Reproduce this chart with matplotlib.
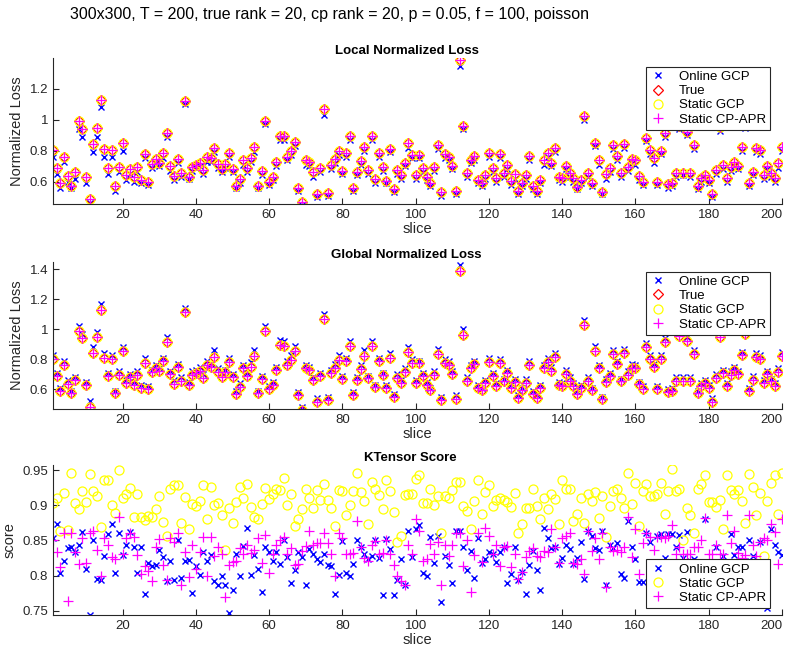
import matplotlib
matplotlib.use("Agg")
import matplotlib.pyplot as plt
import numpy as np

plt.rcParams['font.family'] = ['Liberation Sans', 'DejaVu Sans']

# slice index 1..200
slices = np.arange(1, 201)

# normalized loss of the true model (True / Static GCP / Static CP-APR overlap in the picture)
true_loss = [
    0.805, 0.69, 0.589, 0.762, 0.636, 0.574, 0.66, 0.99, 0.94, 0.632,
    0.485, 0.844, 0.946, 1.126, 0.812, 0.686, 0.805, 0.574, 0.693, 0.853,
    0.643, 0.68, 0.632, 0.697, 0.61, 0.779, 0.6, 0.714, 0.745, 0.723,
    0.788, 0.913, 0.701, 0.636, 0.749, 0.654, 1.119, 0.632, 0.697, 0.708,
    0.723, 0.675, 0.762, 0.751, 0.816, 0.714, 0.68, 0.714, 0.784, 0.684,
    0.571, 0.615, 0.74, 0.686, 0.751, 0.823, 0.574, 0.669, 0.99, 0.6,
    0.632, 0.729, 0.896, 0.892, 0.762, 0.799, 0.859, 0.561, 0.465, 0.74,
    0.729, 0.66, 0.519, 0.69, 1.069, 0.528, 0.708, 0.745, 0.799, 0.671,
    0.788, 0.892, 0.561, 0.66, 0.736, 0.823, 0.675, 0.892, 0.615, 0.788,
    0.693, 0.606, 0.812, 0.552, 0.675, 0.643, 0.719, 0.848, 0.773, 0.643,
    0.773, 0.686, 0.632, 0.593, 0.697, 0.838, 0.53, 0.779, 0.762, 0.701,
    0.539, 1.39, 0.963, 0.654, 0.74, 0.766, 0.61, 0.593, 0.643, 0.784,
    0.686, 0.621, 0.777, 0.654, 0.708, 0.606, 0.649, 0.541, 0.593, 0.645,
    0.764, 0.571, 0.541, 0.61, 0.74, 0.784, 0.723, 0.816, 0.632, 0.621,
    0.701, 0.654, 0.621, 0.567, 0.61, 1.026, 0.658, 0.593, 0.853, 0.74,
    0.535, 0.649, 0.686, 0.838, 0.766, 0.654, 0.844, 0.693, 0.745, 0.74,
    0.636, 0.6, 0.885, 0.805, 0.751, 0.6, 0.801, 0.913, 0.584, 0.589,
    0.658, 0.957, 0.658, 0.924, 0.658, 0.836, 0.574, 0.621, 0.643, 0.61,
    0.519, 0.675, 0.952, 0.708, 0.621, 0.697, 0.729, 0.701, 0.827, 0.97,
    0.589, 0.665, 0.816, 0.805, 0.643, 0.701, 0.654, 0.621, 0.719, 0.823,
]
static_gcp_loss = true_loss
static_cpapr_loss = true_loss

online_local = [
    0.76, 0.65, 0.56, 0.73, 0.60, 0.56, 0.62, 0.94, 0.89, 0.59,
    0.46, 0.79, 0.89, 1.08, 0.76, 0.65, 0.76, 0.54, 0.66, 0.80,
    0.61, 0.65, 0.60, 0.66, 0.59, 0.75, 0.58, 0.69, 0.72, 0.70,
    0.75, 0.89, 0.67, 0.61, 0.72, 0.63, 1.10, 0.62, 0.67, 0.69,
    0.70, 0.65, 0.73, 0.73, 0.79, 0.69, 0.66, 0.69, 0.76, 0.66,
    0.56, 0.59, 0.71, 0.66, 0.73, 0.79, 0.56, 0.64, 0.97, 0.58,
    0.61, 0.70, 0.87, 0.87, 0.74, 0.77, 0.83, 0.54, 0.45, 0.71,
    0.70, 0.63, 0.50, 0.66, 1.03, 0.51, 0.68, 0.72, 0.77, 0.65,
    0.76, 0.87, 0.54, 0.64, 0.71, 0.80, 0.65, 0.87, 0.59, 0.76,
    0.67, 0.59, 0.79, 0.53, 0.65, 0.62, 0.70, 0.82, 0.75, 0.62,
    0.75, 0.66, 0.61, 0.57, 0.67, 0.81, 0.51, 0.75, 0.74, 0.68,
    0.52, 1.35, 0.94, 0.63, 0.72, 0.74, 0.59, 0.57, 0.62, 0.76,
    0.66, 0.60, 0.75, 0.63, 0.68, 0.58, 0.62, 0.52, 0.57, 0.62,
    0.74, 0.55, 0.52, 0.59, 0.71, 0.76, 0.70, 0.79, 0.61, 0.60,
    0.68, 0.63, 0.60, 0.55, 0.59, 1.00, 0.63, 0.57, 0.83, 0.71,
    0.52, 0.62, 0.66, 0.81, 0.74, 0.63, 0.82, 0.67, 0.72, 0.71,
    0.61, 0.58, 0.86, 0.78, 0.72, 0.58, 0.78, 0.89, 0.56, 0.57,
    0.63, 0.94, 0.64, 0.90, 0.63, 0.81, 0.55, 0.60, 0.62, 0.59,
    0.50, 0.65, 0.93, 0.68, 0.60, 0.67, 0.70, 0.68, 0.80, 0.95,
    0.57, 0.64, 0.79, 0.78, 0.62, 0.68, 0.63, 0.60, 0.69, 0.80,
]

online_global = [
    0.83, 0.71, 0.61, 0.79, 0.66, 0.59, 0.68, 1.02, 0.97, 0.65,
    0.52, 0.88, 0.98, 1.17, 0.84, 0.71, 0.83, 0.59, 0.72, 0.88,
    0.66, 0.70, 0.65, 0.72, 0.63, 0.81, 0.62, 0.73, 0.76, 0.74,
    0.81, 0.95, 0.72, 0.66, 0.77, 0.68, 1.14, 0.65, 0.72, 0.73,
    0.75, 0.70, 0.79, 0.77, 0.86, 0.74, 0.70, 0.73, 0.81, 0.70,
    0.59, 0.64, 0.76, 0.71, 0.78, 0.86, 0.59, 0.69, 1.02, 0.62,
    0.65, 0.75, 0.93, 0.92, 0.79, 0.83, 0.89, 0.58, 0.48, 0.76,
    0.75, 0.68, 0.54, 0.71, 1.10, 0.55, 0.73, 0.77, 0.83, 0.69,
    0.81, 0.92, 0.58, 0.68, 0.76, 0.86, 0.69, 0.92, 0.63, 0.81,
    0.71, 0.63, 0.84, 0.57, 0.70, 0.66, 0.74, 0.88, 0.80, 0.66,
    0.79, 0.71, 0.65, 0.61, 0.72, 0.87, 0.55, 0.80, 0.79, 0.72,
    0.56, 1.43, 1.00, 0.68, 0.76, 0.79, 0.63, 0.61, 0.66, 0.81,
    0.71, 0.64, 0.80, 0.67, 0.73, 0.63, 0.67, 0.56, 0.61, 0.67,
    0.79, 0.59, 0.56, 0.63, 0.76, 0.81, 0.75, 0.84, 0.65, 0.64,
    0.73, 0.68, 0.64, 0.59, 0.63, 1.06, 0.68, 0.61, 0.89, 0.76,
    0.55, 0.67, 0.71, 0.86, 0.79, 0.67, 0.87, 0.72, 0.77, 0.76,
    0.65, 0.62, 0.91, 0.83, 0.77, 0.62, 0.83, 0.94, 0.60, 0.61,
    0.68, 0.99, 0.68, 0.95, 0.68, 0.86, 0.59, 0.64, 0.66, 0.63,
    0.54, 0.70, 0.98, 0.73, 0.64, 0.72, 0.75, 0.72, 0.85, 1.00,
    0.61, 0.69, 0.84, 0.83, 0.66, 0.72, 0.67, 0.64, 0.74, 0.85,
]

# KTensor scores
kt_online = [
    0.854, 0.874, 0.803, 0.82, 0.839, 0.84, 0.833, 0.843, 0.862, 0.81,
    0.744, 0.85, 0.795, 0.793, 0.828, 0.859, 0.873, 0.803, 0.861, 0.829,
    0.843, 0.862, 0.84, 0.803, 0.841, 0.773, 0.818, 0.814, 0.815, 0.837,
    0.826, 0.792, 0.821, 0.794, 0.85, 0.797, 0.82, 0.822, 0.775, 0.813,
    0.801, 0.834, 0.82, 0.829, 0.792, 0.786, 0.80, 0.787, 0.746, 0.779,
    0.83, 0.799, 0.842, 0.868, 0.801, 0.829, 0.809, 0.777, 0.84, 0.833,
    0.821, 0.834, 0.816, 0.85, 0.827, 0.789, 0.808, 0.833, 0.826, 0.786,
    0.838, 0.831, 0.823, 0.819, 0.831, 0.815, 0.813, 0.774, 0.801, 0.849,
    0.803, 0.80, 0.816, 0.851, 0.84, 0.831, 0.824, 0.828, 0.85, 0.825,
    0.772, 0.852, 0.838, 0.772, 0.794, 0.823, 0.787, 0.863, 0.826, 0.867,
    0.872, 0.803, 0.80, 0.855, 0.818, 0.856, 0.762, 0.828, 0.815, 0.79,
    0.864, 0.864, 0.84, 0.808, 0.835, 0.796, 0.854, 0.818, 0.824, 0.833,
    0.83, 0.819, 0.834, 0.84, 0.79, 0.802, 0.84, 0.794, 0.805, 0.774,
    0.815, 0.835, 0.808, 0.78, 0.868, 0.853, 0.839, 0.841, 0.817, 0.825,
    0.843, 0.838, 0.816, 0.825, 0.848, 0.795, 0.863, 0.856, 0.839, 0.837,
    0.863, 0.787, 0.843, 0.839, 0.847, 0.802, 0.797, 0.878, 0.84, 0.823,
    0.791, 0.791, 0.861, 0.848, 0.811, 0.856, 0.859, 0.825, 0.859, 0.859,
    0.84, 0.858, 0.825, 0.862, 0.82, 0.823, 0.811, 0.797, 0.881, 0.818,
    0.801, 0.84, 0.816, 0.828, 0.801, 0.859, 0.829, 0.84, 0.84, 0.82,
    0.851, 0.828, 0.811, 0.848, 0.792, 0.754, 0.866, 0.843, 0.833, 0.829,
]

kt_static_gcp = [
    0.903, 0.91, 0.864, 0.918, 0.865, 0.947, 0.903, 0.895, 0.92, 0.905,
    0.945, 0.92, 0.914, 0.869, 0.936, 0.936, 0.9, 0.889, 0.951, 0.91,
    0.917, 0.925, 0.884, 0.917, 0.883, 0.879, 0.885, 0.883, 0.895, 0.914,
    0.877, 0.856, 0.923, 0.929, 0.929, 0.875, 0.912, 0.867, 0.902, 0.899,
    0.906, 0.929, 0.88, 0.927, 0.901, 0.904, 0.887, 0.837, 0.897, 0.875,
    0.905, 0.926, 0.911, 0.931, 0.898, 0.884, 0.88, 0.902, 0.925, 0.909,
    0.916, 0.923, 0.922, 0.939, 0.9, 0.916, 0.87, 0.88, 0.895, 0.924,
    0.911, 0.897, 0.922, 0.908, 0.931, 0.908, 0.897, 0.87, 0.922, 0.921,
    0.886, 0.9, 0.921, 0.946, 0.919, 0.907, 0.874, 0.933, 0.924, 0.915,
    0.895, 0.936, 0.92, 0.891, 0.848, 0.856, 0.915, 0.917, 0.917, 0.938,
    0.943, 0.904, 0.903, 0.924, 0.901, 0.914, 0.86, 0.914, 0.911, 0.922,
    0.933, 0.934, 0.899, 0.892, 0.867, 0.906, 0.936, 0.888, 0.919, 0.929,
    0.899, 0.908, 0.91, 0.908, 0.905, 0.898, 0.918, 0.86, 0.874, 0.897,
    0.897, 0.924, 0.899, 0.88, 0.91, 0.895, 0.917, 0.909, 0.874, 0.937,
    0.924, 0.923, 0.878, 0.888, 0.911, 0.875, 0.916, 0.906, 0.919, 0.882,
    0.913, 0.855, 0.899, 0.921, 0.924, 0.91, 0.896, 0.947, 0.902, 0.932,
    0.87, 0.92, 0.931, 0.914, 0.913, 0.917, 0.932, 0.888, 0.92, 0.952,
    0.92, 0.923, 0.851, 0.896, 0.886, 0.86, 0.924, 0.93, 0.943, 0.905,
    0.905, 0.898, 0.908, 0.867, 0.943, 0.922, 0.917, 0.922, 0.906, 0.875,
    0.945, 0.926, 0.887, 0.918, 0.828, 0.907, 0.932, 0.944, 0.888, 0.946,
]

kt_static_cpapr = [
    0.85, 0.833, 0.812, 0.86, 0.764, 0.86, 0.834, 0.817, 0.853, 0.818,
    0.86, 0.863, 0.836, 0.80, 0.854, 0.843, 0.827, 0.824, 0.883, 0.83,
    0.853, 0.861, 0.855, 0.829, 0.802, 0.813, 0.807, 0.792, 0.841, 0.852,
    0.815, 0.793, 0.853, 0.848, 0.861, 0.787, 0.833, 0.798, 0.844, 0.809,
    0.833, 0.855, 0.799, 0.855, 0.828, 0.841, 0.831, 0.77, 0.815, 0.819,
    0.821, 0.839, 0.831, 0.844, 0.832, 0.836, 0.854, 0.818, 0.858, 0.804,
    0.83, 0.843, 0.851, 0.855, 0.83, 0.839, 0.815, 0.816, 0.835, 0.842,
    0.863, 0.844, 0.847, 0.847, 0.86, 0.847, 0.83, 0.80, 0.861, 0.853,
    0.831, 0.831, 0.832, 0.878, 0.84, 0.825, 0.821, 0.844, 0.849, 0.831,
    0.832, 0.851, 0.831, 0.815, 0.80, 0.792, 0.787, 0.844, 0.83, 0.88,
    0.863, 0.82, 0.824, 0.845, 0.831, 0.848, 0.787, 0.844, 0.828, 0.844,
    0.861, 0.861, 0.813, 0.85, 0.777, 0.829, 0.861, 0.819, 0.868, 0.856,
    0.831, 0.843, 0.813, 0.84, 0.842, 0.812, 0.83, 0.795, 0.805, 0.826,
    0.835, 0.839, 0.828, 0.826, 0.835, 0.834, 0.866, 0.84, 0.818, 0.853,
    0.856, 0.861, 0.818, 0.816, 0.824, 0.802, 0.863, 0.835, 0.853, 0.823,
    0.861, 0.783, 0.84, 0.835, 0.837, 0.834, 0.84, 0.883, 0.826, 0.867,
    0.802, 0.847, 0.86, 0.855, 0.836, 0.855, 0.855, 0.853, 0.856, 0.872,
    0.83, 0.84, 0.831, 0.831, 0.831, 0.84, 0.84, 0.851, 0.882, 0.831,
    0.83, 0.843, 0.831, 0.83, 0.886, 0.847, 0.863, 0.832, 0.825, 0.829,
    0.887, 0.844, 0.828, 0.848, 0.854, 0.851, 0.873, 0.862, 0.816, 0.88,
]

suptitle = "300x300, T = 200, true rank = 20, cp rank = 20, p = 0.05, f = 100, poisson"

AX_COLOR = "#262626"
W, H = 788, 654

fig = plt.figure(figsize=(W / 100, H / 100), dpi=100)
fig.text(70 / W, 1 - 14 / H, suptitle, ha="left", va="center", fontsize=11.5, color="black")

# axes boxes in pixels: (left, top, right, bottom)
boxes = [(53, 58, 782, 204), (53, 262, 782, 409), (53, 465, 782, 615)]
axes = []
for (l, t, r, b) in boxes:
    ax = fig.add_axes([l / W, 1 - b / H, (r - l) / W, (b - t) / H])
    for side in ["top", "right"]:
        ax.spines[side].set_visible(False)
    for side in ["left", "bottom"]:
        ax.spines[side].set_color(AX_COLOR)
        ax.spines[side].set_linewidth(0.8)
    ax.tick_params(direction="in", length=4, width=0.8, colors=AX_COLOR, labelsize=9.5)
    ax.set_xlim(1, 200)
    ax.set_xticks(range(20, 201, 20))
    # last label sits on the figure edge; nudge it inward so it stays readable
    ax.set_xticklabels([str(v) for v in range(20, 201, 20)])
    ax.get_xticklabels()[-1].set_horizontalalignment("right")
    ax.set_xlabel("slice", fontsize=10.5, color=AX_COLOR, labelpad=1)
    axes.append(ax)

def fmt(v, pos):
    s = f"{v:.2f}".rstrip("0").rstrip(".")
    return s

def add_legend(ax, loc, anchor):
    leg = ax.legend(loc=loc, bbox_to_anchor=anchor, borderaxespad=0,
                    fontsize=9.5, frameon=True, fancybox=False, edgecolor=AX_COLOR, framealpha=1,
                    labelspacing=0.15, handlelength=1.2, handletextpad=1.0, borderpad=0.3)
    leg.get_frame().set_linewidth(0.8)

def loss_panel(ax, online, title, ylim, yticks, legend_top):
    ax.plot(slices, online, "x", color="blue", ms=4.5, mew=1.0, label="Online GCP")
    ax.plot(slices, true_loss, "D", mfc="none", mec="red", ms=4.6, mew=0.9, label="True")
    ax.plot(slices, static_gcp_loss, "o", mfc="none", mec="yellow", ms=6.5, mew=0.9, label="Static GCP")
    ax.plot(slices, static_cpapr_loss, "+", color="magenta", ms=7.5, mew=0.9, label="Static CP-APR")
    ax.set_ylim(*ylim)
    ax.set_yticks(yticks)
    ax.yaxis.set_major_formatter(plt.FuncFormatter(fmt))
    ax.set_ylabel("Normalized Loss", fontsize=10.5, color=AX_COLOR)
    ax.set_title(title, fontsize=9.5, fontweight="bold", x=0.485, pad=3)
    add_legend(ax, "upper right", (0.9835, legend_top))

loss_panel(axes[0], online_local, "Local Normalized Loss", (0.455, 1.40), [0.6, 0.8, 1.0, 1.2], 0.94)
loss_panel(axes[1], online_global, "Global Normalized Loss", (0.469, 1.449), [0.6, 0.8, 1.0, 1.2, 1.4], 0.934)

ax = axes[2]
ax.plot(slices, kt_online, "x", color="blue", ms=4.5, mew=1.0, label="Online GCP")
ax.plot(slices, kt_static_gcp, "o", mfc="none", mec="yellow", ms=6.5, mew=0.9, label="Static GCP")
ax.plot(slices, kt_static_cpapr, "+", color="magenta", ms=7.5, mew=0.9, label="Static CP-APR")
ax.set_ylim(0.7436, 0.9578)
ax.set_yticks([0.75, 0.8, 0.85, 0.9, 0.95])
ax.yaxis.set_major_formatter(plt.FuncFormatter(fmt))
ax.set_ylabel("score", fontsize=10.5, color=AX_COLOR)
ax.set_title("KTensor Score", fontsize=9.5, fontweight="bold", x=0.49, pad=3)
add_legend(ax, "lower right", (0.9835, 0.047))

fig.savefig("out.png", dpi=100)
